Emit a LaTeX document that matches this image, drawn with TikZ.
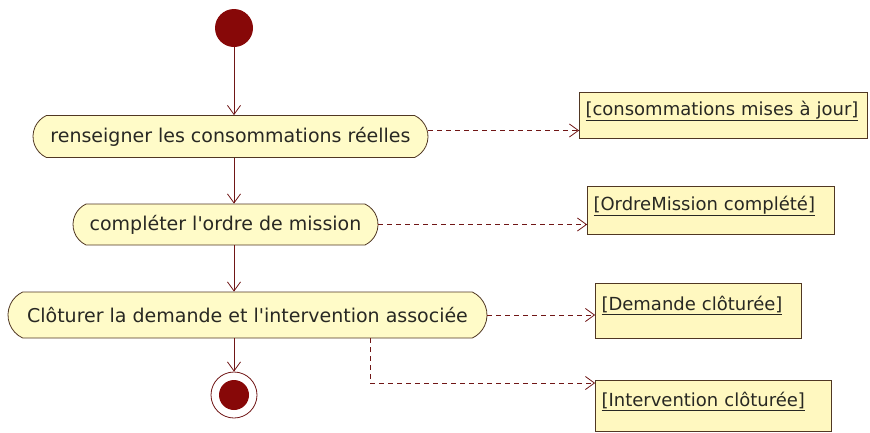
\documentclass[tikz,border=0pt]{standalone}
\usepackage{fontspec}
\setmainfont{DejaVu Sans}[Ligatures=TeXOff]
\usepackage{tikz}
\usetikzlibrary{positioning,arrows.meta,shapes.misc}
\usepackage{xcolor}

\definecolor{actfill}{RGB}{255,251,200}
\definecolor{objfill}{RGB}{255,248,192}
\definecolor{border}{RGB}{80,55,35}
\definecolor{flowred}{RGB}{112,22,22}
\definecolor{dotred}{RGB}{135,8,8}
\definecolor{ink}{RGB}{40,40,35}

\begin{document}
\begin{tikzpicture}[x=1pt,y=-1pt,font=\fontsize{19}{21}\selectfont,>=Latex]
\tikzset{
  act/.style={rounded rectangle,rounded rectangle arc length=130,draw=border,fill=actfill,thick,text=ink,inner sep=0pt},
  obj/.style={draw=border,fill=objfill,thick,text=ink,align=left,inner xsep=6pt,text depth=14pt,font=\fontsize{18}{20}\selectfont},
  flow/.style={-{Straight Barb[length=9pt,width=13pt]},thick,draw=flowred},
  dep/.style={-{Straight Barb[length=9pt,width=13pt]},thick,dashed,dash pattern=on 5pt off 4pt,draw=flowred}
}
\useasboundingbox (0,0) rectangle (870,432);

\node[circle,fill=dotred,minimum size=38pt,inner sep=0pt] (start) at (234,28) {};

\node[act,minimum width=395pt,minimum height=42pt] (act1) at (230.5,136.5) {renseigner les consommations réelles};
\node[act,minimum width=305pt,minimum height=41pt] (act2) at (225.5,224.5) {compléter l'ordre de mission};
\node[act,minimum width=479pt,minimum height=46pt] (act3) at (247.5,315) {Clôturer la demande et l'intervention associée};

\node[circle,draw=flowred,thick,minimum size=46pt,inner sep=0pt] (stop) at (234,395) {};
\node[circle,fill=dotred,minimum size=30pt,inner sep=0pt] (stopdot) at (stop) {};

\node[obj,text width=276pt,minimum height=46pt] (obj1) at (723.5,115) {\underline{[consommations mises à jour]}};
\node[obj,text width=235pt,minimum height=48pt] (obj2) at (711,210) {\underline{[OrdreMission complété]}};
\node[obj,text width=194pt,minimum height=55pt] (obj3) at (698.5,310.5) {\underline{[Demande clôturée]}};
\node[obj,text width=224pt,minimum height=51pt] (obj4) at (713.5,406) {\underline{[Intervention clôturée]}};

% control flow
\draw[flow] (start) -- (start |- act1.north);
\draw[flow] (act1.south -| start) -- (act2.north -| start);
\draw[flow] (act2.south -| start) -- (act3.north -| start);
\draw[flow] (act3.south -| start) -- (stop.north);

% object flow
\draw[dep] ([yshift=6pt]act1.east) -- ([yshift=6pt]act1.east -| obj1.west);
\draw[dep] (act2.east) -- (act2.east -| obj2.west);
\draw[dep] (act3.east) -- (act3.east -| obj3.west);
\coordinate (turn) at (370,383);
\draw[dep] (act3.south -| turn) -- (turn) -- (turn -| obj4.west);
\end{tikzpicture}
\end{document}
